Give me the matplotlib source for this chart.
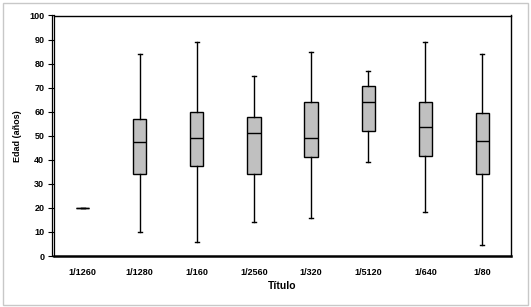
import matplotlib
matplotlib.use("Agg")
import matplotlib.pyplot as plt
from matplotlib.patches import Rectangle
from matplotlib.lines import Line2D

categories = ["1/1260", "1/1280", "1/160", "1/2560", "1/320", "1/5120", "1/640", "1/80"]
whislo = [20, 10, 6, 14, 16, 39, 18.3, 4.4]
q1     = [20, 34, 37.3, 34, 41.2, 51.9, 41.6, 34]
med    = [20, 47.6, 49, 51, 49.1, 63.9, 53.5, 47.7]
q3     = [20, 56.9, 60, 58, 63.9, 70.6, 63.9, 59.4]
whishi = [20, 84, 88.8, 75, 84.7, 77, 88.8, 84]

plt.rcParams['font.family'] = ['Liberation Sans', 'DejaVu Sans']

W, H = 531, 307
fig = plt.figure(figsize=(W / 100, H / 100), dpi=100)
L, R, B, T = 54, 511, 256, 15.5
ax = fig.add_axes([L / W, 1 - B / H, (R - L) / W, (B - T) / H])

stats = []
for i, c in enumerate(categories):
    stats.append(dict(label=c, whislo=whislo[i], q1=q1[i], med=med[i],
                      q3=q3[i], whishi=whishi[i], fliers=[]))

ax.bxp(stats, positions=range(len(categories)), widths=0.23, patch_artist=True,
       showfliers=False,
       boxprops=dict(facecolor="#C0C0C0", edgecolor="black", linewidth=1.0),
       medianprops=dict(color="black", linewidth=1.0),
       whiskerprops=dict(color="black", linewidth=1.0),
       capprops=dict(color="black", linewidth=1.0),
       capwidths=0.07)

ax.set_xlim(-0.5, len(categories) - 0.5)
ax.set_ylim(0, 100)
ax.set_yticks(range(0, 101, 10))
ax.set_xticks(range(len(categories)))
ax.set_xticklabels(categories)
ax.tick_params(axis='x', length=0, pad=8.5, labelsize=6.5)
ax.tick_params(axis='y', length=4, width=0.8, pad=3, labelsize=6.5)
for lab in ax.get_xticklabels() + ax.get_yticklabels():
    lab.set_fontweight('bold')

ax.spines['left'].set_linewidth(0.9)
ax.spines['bottom'].set_linewidth(1.8)
for s in ['top', 'right']:
    ax.spines[s].set_linewidth(1.0)

# double line on the left axis
fig.lines.append(Line2D([(L - 2.5) / W] * 2, [1 - B / H, 1 - (T - 0.5) / H],
                        transform=fig.transFigure, color="black", linewidth=0.9))

ax.set_ylabel("Edad (años)", fontsize=6.5, fontweight='bold', va='center')
ax.yaxis.set_label_coords((18 - L) / (R - L), 0.5)
fig.text((L + R) / 2 / W, 1 - 289 / H, "Título", ha='center', va='baseline',
         fontsize=7.5, fontweight='bold')

fig.patches.append(Rectangle((2.5 / W, 1 - 305 / H), 525.5 / W, 302.5 / H,
                             transform=fig.transFigure, fill=False,
                             edgecolor="#C8C8C8", linewidth=1.0))

fig.savefig("out.png", dpi=100)
